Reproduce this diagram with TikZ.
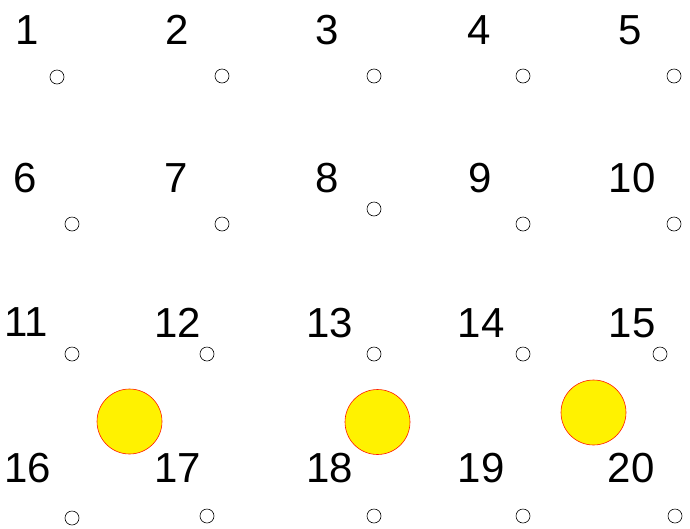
\documentclass[tikz,border=0pt]{standalone}
\usepackage{fontspec}
\setmainfont{Liberation Sans}
\usepackage{tikz}
\usetikzlibrary{positioning}
\tikzset{
  numlabel/.style={font=\fontsize{42}{42}\selectfont, inner sep=0pt, anchor=center},
  dot/.style={circle, draw=black, fill=white, line width=0.6pt, minimum size=14pt, inner sep=0pt},
  sun/.style={circle, draw=red!80!orange, fill=yellow, line width=0.6pt, minimum size=65pt, inner sep=0pt}
}

\begin{document}
\begin{tikzpicture}[x=1pt, y=-1pt]

\useasboundingbox (0,0) rectangle (690,528);

% number labels
\foreach \n/\px/\py in {1/27/30, 2/177/30, 3/327/30, 4/479/30, 5/630/30,
  6/25/178, 7/176/178, 8/327/178, 9/480/178, 10/632/178,
  11/26/322, 12/178/323, 13/330/323, 14/481/323, 15/632/323,
  16/28/468, 17/178/468, 18/330/468, 19/481/468, 20/631/468}
  \node[numlabel] (lab\n) at (\px,\py) {\n};

% small circles
\foreach \n/\px/\py in {1/57/77, 2/222/76, 3/374/76, 4/523/76, 5/674/76,
  6/72/224, 7/222/224, 8/374/209, 9/523/224, 10/674/224,
  11/72/354, 12/207/354, 13/374/354, 14/523/354, 15/660/354,
  16/72/518, 17/207/516, 18/374/516, 19/523/516, 20/675/516}
  \node[dot] (c\n) at (\px,\py) {};

% yellow discs
\node[sun] (sunA) at (129.5,421.5) {};
\node[sun] (sunB) at (377.5,422) {};
\node[sun] (sunC) at (593.5,412.5) {};

\end{tikzpicture}
\end{document}
